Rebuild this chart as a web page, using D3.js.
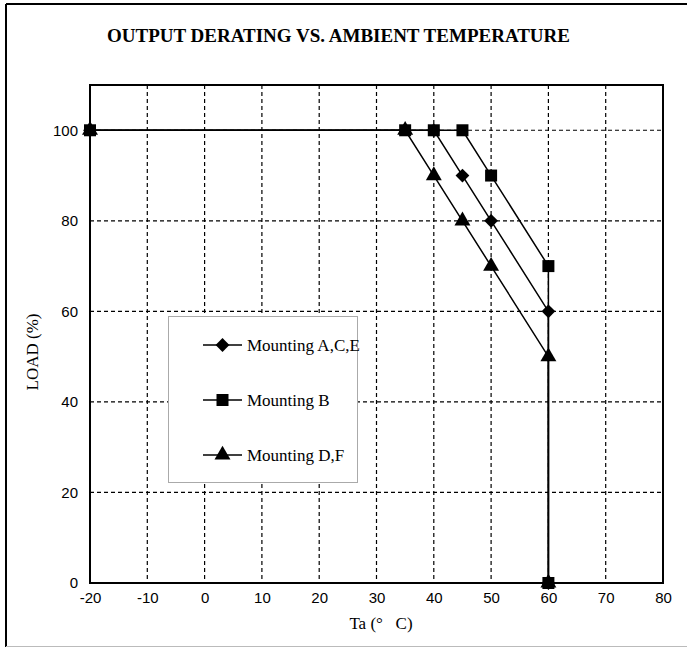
<!DOCTYPE html>
<html>
  <head>
    <meta charset="utf-8">
    <title>Output derating</title>
    <script src="https://d3js.org/d3.v7.min.js"></script>
    <style>
      body { margin: 0; background: #fff; }
    </style>
  </head>
  <body>
    <script>
      // values
      var xTicks = [-20, -10, 0, 10, 20, 30, 40, 50, 60, 70, 80];
      var yTicks = [0, 20, 40, 60, 80, 100];
      var seriesNames = ["Mounting A,C,E", "Mounting B", "Mounting D,F"];
      var seriesSymbols = ["diamond", "square", "triangle"];
      var mountACE = [[-20, 100], [40, 100], [45, 90], [50, 80], [60, 60], [60, 0]];
      var mountB = [[-20, 100], [35, 100], [40, 100], [45, 100], [50, 90], [60, 70], [60, 0]];
      var mountDF = [[-20, 100], [35, 100], [40, 90], [45, 80], [50, 70], [60, 50], [60, 0]];

      var W = 687, H = 647;
      var pL = 90, pR = 663, pT = 85, pB = 583;
      var serif = "'Liberation Serif', 'Times New Roman', serif";

      var svg = d3.select("body").append("svg")
        .attr("width", W).attr("height", H);

      // outer frame
      svg.append("line").attr("x1", 6).attr("x2", W).attr("y1", 4).attr("y2", 4)
        .attr("stroke", "#000").attr("stroke-width", 2);
      svg.append("line").attr("x1", 6).attr("x2", 6).attr("y1", 4).attr("y2", H)
        .attr("stroke", "#000").attr("stroke-width", 2);
      svg.append("line").attr("x1", 6).attr("x2", W).attr("y1", 646.5).attr("y2", 646.5)
        .attr("stroke", "#bbb").attr("stroke-width", 1);

      svg.append("text")
        .attr("x", 107).attr("y", 42)
        .attr("textLength", 463).attr("lengthAdjust", "spacingAndGlyphs")
        .style("font-family", serif)
        .style("font-weight", "bold").style("font-size", "18px")
        .text("OUTPUT DERATING VS. AMBIENT TEMPERATURE");

      var x = d3.scaleLinear().domain([-20, 80]).range([pL, pR]);
      var y = d3.scaleLinear().domain([0, 110]).range([pB, pT]);

      // grid
      var grid = svg.append("g");
      grid.selectAll(".gx").data(xTicks.slice(1, -1)).enter().append("line")
        .attr("x1", d => x(d)).attr("x2", d => x(d))
        .attr("y1", pT).attr("y2", pB)
        .attr("stroke", "#000").attr("stroke-width", 1.2).attr("stroke-dasharray", "4,3");
      grid.selectAll(".gy").data(yTicks.slice(1)).enter().append("line")
        .attr("x1", pL).attr("x2", pR)
        .attr("y1", d => y(d)).attr("y2", d => y(d))
        .attr("stroke", "#000").attr("stroke-width", 1.2).attr("stroke-dasharray", "4,3");

      // axes labels
      var xAxis = d3.axisBottom(x).tickValues(xTicks).tickSize(0).tickPadding(9)
        .tickFormat(d => String(d));
      var gx = svg.append("g").attr("transform", "translate(0," + pB + ")").call(xAxis);
      var yAxis = d3.axisLeft(y).tickValues(yTicks).tickSize(0).tickPadding(12)
        .tickFormat(d => String(d));
      var gy = svg.append("g").attr("transform", "translate(" + pL + ",0)").call(yAxis);
      [gx, gy].forEach(function (g) {
        g.select(".domain").remove();
        g.selectAll("text")
          .style("font-family", "'Liberation Sans', Arial, sans-serif")
          .style("font-size", "15px").attr("fill", "#000");
      });

      // plot frame
      svg.append("rect")
        .attr("x", pL).attr("y", pT)
        .attr("width", pR - pL).attr("height", pB - pT)
        .attr("fill", "none").attr("stroke", "#000").attr("stroke-width", 2);

      svg.append("text")
        .attr("transform", "translate(38,352) rotate(-90)")
        .attr("text-anchor", "middle")
        .style("font-family", serif)
        .style("font-size", "17px")
        .text("LOAD (%)");
      svg.append("text")
        .attr("x", 381).attr("y", 629)
        .attr("text-anchor", "middle")
        .style("font-family", serif)
        .style("font-size", "17px")
        .style("white-space", "pre")
        .text("Ta (\u00b0   C)");

      function sym(name) {
        if (name === "diamond") return d3.symbol().type(d3.symbolSquare).size(95)();
        if (name === "square") return d3.symbol().type(d3.symbolSquare).size(144)();
        return d3.symbol().type(d3.symbolTriangle).size(110)();
      }
      function rot(name) { return name === "diamond" ? " rotate(45)" : ""; }

      var line = d3.line().x(d => x(d[0])).y(d => y(d[1]));
      var allSeries = [mountACE, mountB, mountDF];
      // triangle first, then diamond, square on top
      var order = [2, 0, 1];
      order.forEach(function (i) {
        svg.append("path").datum(allSeries[i])
          .attr("d", line)
          .attr("fill", "none").attr("stroke", "#000").attr("stroke-width", 1.5);
      });
      order.forEach(function (i) {
        var s = seriesSymbols[i];
        svg.selectAll(".m" + i).data(allSeries[i]).enter().append("path")
          .attr("transform", d => "translate(" + x(d[0]) + "," + y(d[1]) + ")" + rot(s))
          .attr("d", sym(s))
          .attr("fill", "#000");
      });

      // legend
      var lg = svg.append("g");
      lg.append("rect")
        .attr("x", 168.5).attr("y", 316.5).attr("width", 189).attr("height", 166)
        .attr("fill", "#fff").attr("stroke", "#aaa").attr("stroke-width", 1);
      var rows = lg.selectAll(".row").data(seriesNames).enter().append("g")
        .attr("transform", (d, i) => "translate(0," + (345 + i * 55) + ")");
      rows.append("line").attr("x1", 203).attr("x2", 242).attr("y1", 0).attr("y2", 0)
        .attr("stroke", "#000").attr("stroke-width", 1.5);
      rows.append("path")
        .attr("transform", (d, i) => "translate(222.5,0)" + rot(seriesSymbols[i]))
        .attr("d", (d, i) => sym(seriesSymbols[i]))
        .attr("fill", "#000");
      rows.append("text")
        .attr("x", 247).attr("y", 6)
        .style("font-family", serif)
        .style("font-size", "17px")
        .text(d => d);
    </script>
  </body>
</html>
